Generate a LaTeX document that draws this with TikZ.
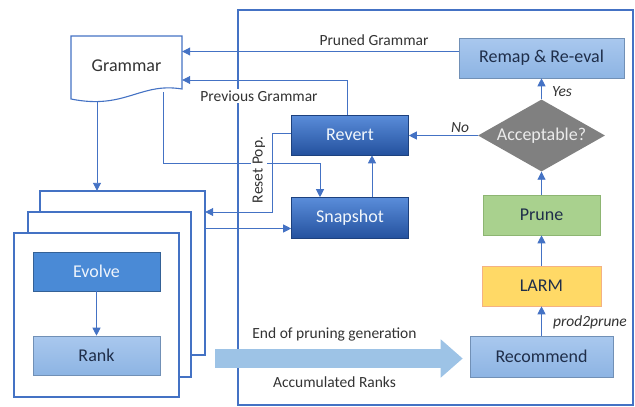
\documentclass[tikz,border=0pt]{standalone}
\usepackage{fontspec}
\setmainfont{Carlito}
\usetikzlibrary{arrows.meta,shapes.geometric}
\definecolor{lineblue}{HTML}{4472C4}
\definecolor{darktop}{HTML}{5A8DDA}
\definecolor{darkbot}{HTML}{24519E}
\definecolor{lighttop}{HTML}{A9C8EE}
\definecolor{lightbot}{HTML}{8DB4E3}
\definecolor{evolvefill}{HTML}{4A8AD6}
\definecolor{navytext}{HTML}{1F2E4A}
\definecolor{greytext}{HTML}{333333}
\definecolor{larmfill}{HTML}{FFD966}
\definecolor{larmedge}{HTML}{F4B183}
\definecolor{prunefill}{HTML}{A9D18E}
\definecolor{pruneedge}{HTML}{8DB572}
\definecolor{bigblue}{HTML}{9DC3E6}
\tikzset{
  conn/.style={draw=lineblue, line width=0.9pt, -{Triangle[length=8pt,width=8pt]}},
  plain/.style={draw=lineblue, line width=0.9pt},
  stackbox/.style={draw=lineblue, line width=1.1pt, fill=white},
  darkbox/.style={draw=darkbot!80!black, line width=0.6pt, top color=darktop, bottom color=darkbot,
    text=white!85!lighttop, minimum width=117pt, minimum height=40pt, inner sep=0pt},
  lightbox/.style={draw=lightbot!80!black, line width=0.6pt, top color=lighttop, bottom color=lightbot,
    text=navytext, minimum height=40pt, inner sep=0pt},
  flowlabel/.style={font=\fontsize{15.5}{18}\selectfont, text=greytext, inner sep=1.5pt},
  italabel/.style={flowlabel, font=\fontsize{15.5}{18}\selectfont\itshape},
  bigarrow/.style={draw=bigblue, line width=19pt, -{Triangle[length=22pt,width=37pt]}}
}
\begin{document}
\begin{tikzpicture}[x=1pt,y=-1pt,font=\fontsize{18}{21}\selectfont]
\useasboundingbox (0,0) rectangle (635,407);

\draw[plain, line width=1.1pt] (238,10) rectangle (633,405);

\draw[plain, line width=1.1pt, fill=white] (71,36) -- (182,36) -- (182,89)
  .. controls (140,82) and (125,110) .. (71,99) -- cycle;
\node[text=greytext] (gram) at (126.5,66) [minimum width=111pt] {Grammar};

\draw[stackbox] (40,191) rectangle (205,355);
\draw[stackbox] (28,212) rectangle (191,377);
\draw[stackbox] (14,233) rectangle (179,397);
\node (stackc) at (122.5,273) [minimum width=165pt, minimum height=164pt, inner sep=0pt] {};

\node[draw=evolvefill!70!black, line width=0.6pt, fill=evolvefill, text=white!80!lighttop,
  minimum width=127pt, minimum height=39pt, inner sep=0pt] (evolve) at (96.5,271.5) {Evolve};
\node[lightbox, minimum width=127pt, minimum height=39pt] (rank) at (96.5,355.5) {Rank};

\node[darkbox] (revert) at (350,135) {Revert};
\node[darkbox, minimum height=41pt] (snap) at (350,218) {Snapshot};

\node[lightbox, minimum width=165pt] (remap) at (541.5,58) {Remap \& Re-eval};
\node[diamond, fill=black!50, text=white!92!black, shape aspect=1.76, inner sep=0pt,
  minimum width=127pt, minimum height=72pt] (acc) at (541.5,135.5) {Acceptable?};
\node[draw=pruneedge, line width=0.6pt, fill=prunefill, text=navytext, minimum width=117pt,
  minimum height=40pt, inner sep=0pt] (prune) at (541.5,215) {Prune};
\node[draw=larmedge, line width=0.6pt, fill=larmfill, text=navytext, minimum width=119pt,
  minimum height=40pt, inner sep=0pt] (larm) at (541.5,286) {LARM};
\node[lightbox, minimum width=143pt, minimum height=41pt] (recommend) at (541.5,356.5) {Recommend};

\coordinate (pg) at (347,80);
\coordinate (gd) at (97,101);
\coordinate (gs) at (163,92);
\coordinate (gc) at (320,163);
\coordinate (rp) at (272,212);
\coordinate (ba) at (215,358.5);

\draw[conn] (evolve) -- (rank);
\draw[conn] (recommend) -- (larm);
\draw[conn] (larm) -- (prune);
\draw[conn] (prune) -- (acc);
\draw[conn] (acc) -- (remap);
\draw[conn] (acc.west) -- (acc.west -| revert.east);
\draw[conn] ([yshift=6.5pt]remap.west) -- ([yshift=6.5pt]remap.west -| gram.east);
\draw[conn] (revert.north -| pg) -- (pg) -- (pg -| gram.east);
\draw[conn] (gd) -- (gd |- stackc.north);
\draw[conn] (gs) -- (gs |- gc) -- (gc) -- (gc |- snap.north);
\draw[conn] ([xshift=22pt]snap.north) -- ([xshift=22pt]revert.south);
\draw[conn] ([yshift=2pt]revert.west) -| (rp) -- (rp -| stackc.east);
\draw[conn] ([yshift=-10.5pt]snap.west -| stackc.east) -- ([yshift=-10.5pt]snap.west);
\draw[bigarrow] (ba) -- ([xshift=-7pt]recommend.west |- ba);

\node[flowlabel] at (374,40) {Pruned Grammar};
\node[flowlabel, fill=white] at (259,96) {Previous Grammar};
\node[flowlabel, fill=white, rotate=90] at (259,170) {Reset Pop.};
\node[italabel] at (460,128) {No};
\node[italabel] at (562,92) {Yes};
\node[italabel] at (590,322) {prod2prune};
\node[flowlabel] at (334.5,334) {End of pruning generation};
\node[flowlabel] at (334.5,382) {Accumulated Ranks};
\end{tikzpicture}
\end{document}
